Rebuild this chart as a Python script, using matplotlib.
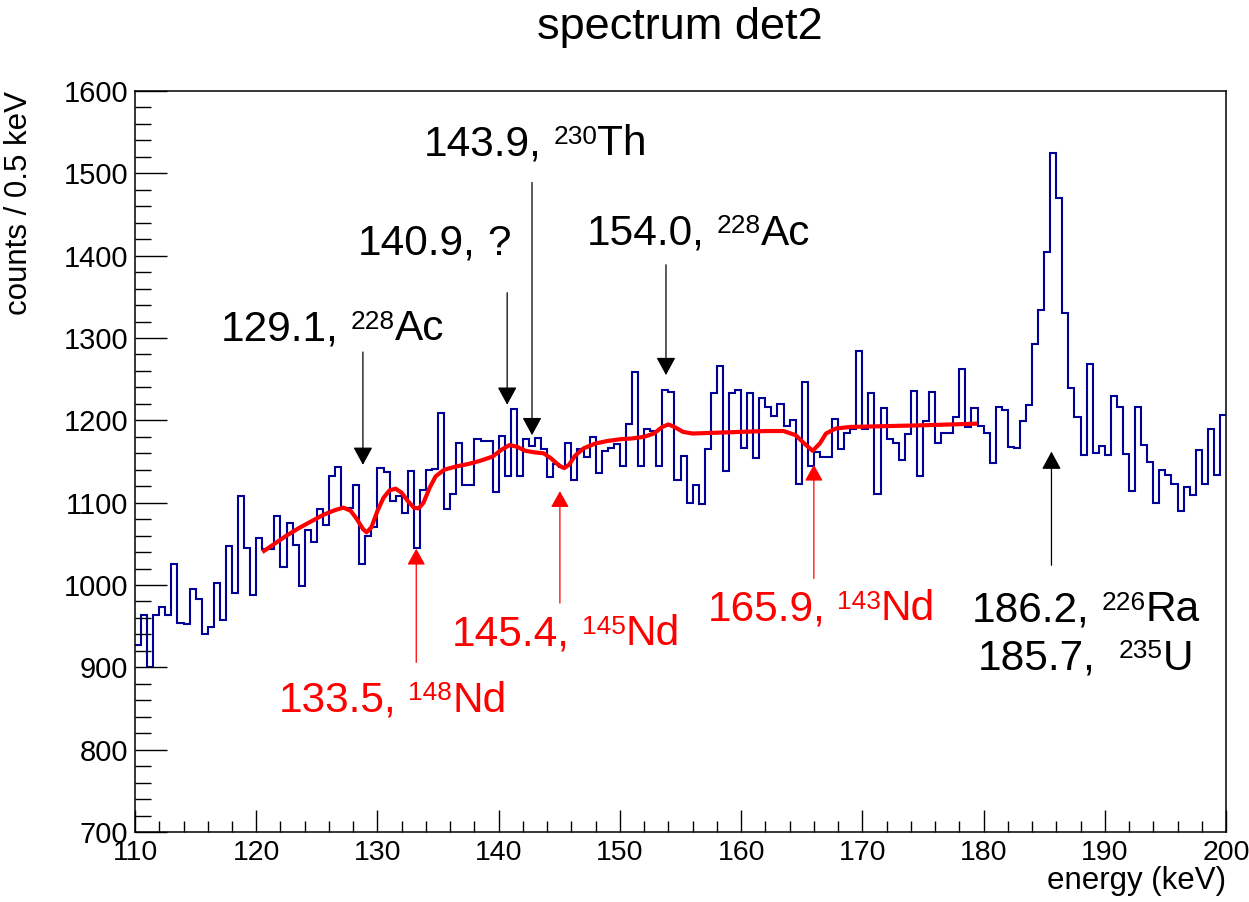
import numpy as np
import matplotlib
matplotlib.use("Agg")
import matplotlib.pyplot as plt
from matplotlib.transforms import offset_copy

plt.rcParams["font.family"] = ["Liberation Sans", "DejaVu Sans"]

# ---------------------------------------------------------------------------
# data: counts per 0.5 keV bin, 110-200 keV
# ---------------------------------------------------------------------------
e_lo, e_hi, bin_w = 110.0, 200.0, 0.5

counts = [
    927, 963, 901, 964, 973, 964, 1026, 954, 953, 995,
    983, 940, 949, 1003, 957, 1047, 990, 1108, 1045, 988,
    1057, 1044, 1044, 1084, 1022, 1075, 1049, 999, 1067, 1052,
    1092, 1073, 1133, 1143, 1094, 1094, 1121, 1026, 1060, 1070,
    1142, 1137, 1102, 1108, 1087, 1138, 1045, 1115, 1140, 1141,
    1209, 1092, 1111, 1172, 1121, 1121, 1177, 1175, 1175, 1113,
    1181, 1132, 1214, 1133, 1177, 1169, 1179, 1165, 1131, 1147,
    1143, 1173, 1127, 1165, 1155, 1180, 1136, 1163, 1167, 1171,
    1145, 1196, 1259, 1145, 1189, 1187, 1144, 1237, 1235, 1127,
    1157, 1100, 1121, 1098, 1165, 1233, 1266, 1139, 1233, 1237,
    1167, 1233, 1154, 1227, 1216, 1205, 1220, 1193, 1201, 1123,
    1246, 1145, 1161, 1156, 1155, 1202, 1165, 1185, 1189, 1284,
    1189, 1233, 1111, 1215, 1177, 1173, 1152, 1184, 1236, 1133,
    1199, 1235, 1173, 1185, 1185, 1204, 1262, 1192, 1215, 1193,
    1185, 1148, 1216, 1213, 1168, 1166, 1199, 1219, 1293, 1334,
    1404, 1525, 1470, 1330, 1239, 1204, 1158, 1268, 1160, 1169,
    1158, 1230, 1216, 1159, 1114, 1216, 1170, 1149, 1100, 1140,
    1134, 1123, 1090, 1119, 1109, 1164, 1123, 1189, 1134, 1206,
]

# fit curve (energy, counts)
fit_e = [120.5, 121.5, 122.5, 123.5, 124.5, 125.5, 126.5, 127.2, 127.8, 128.3,
         128.8, 129.1, 129.5, 130.0, 130.5, 131.0, 131.5, 132.0, 132.5, 133.0,
         133.4, 133.8, 134.3, 134.8, 135.5, 136.5, 137.5, 138.5, 139.5, 140.2,
         140.9, 141.5, 142.2, 143.0, 143.7, 144.3, 145.0, 145.4, 145.8, 146.3,
         147.0, 148.0, 149.0, 150.0, 151.0, 152.0, 152.8, 153.5, 154.0, 154.5,
         155.2, 156.0, 158.0, 160.0, 162.0, 163.5, 164.5, 165.2, 165.9, 166.5,
         167.0, 167.8, 169.0, 172.0, 175.0, 179.5]
fit_c = [1040, 1050, 1060, 1069, 1077, 1085, 1091, 1094, 1090, 1080,
         1068, 1064, 1070, 1090, 1106, 1115, 1117, 1112, 1102, 1094,
         1093, 1100, 1118, 1132, 1140, 1144, 1147, 1151, 1156, 1164,
         1170, 1168, 1163, 1161, 1160, 1154, 1145, 1142, 1146, 1157,
         1166, 1172, 1175, 1177, 1178, 1180, 1184, 1192, 1195, 1192,
         1186, 1184, 1185, 1186, 1187, 1187, 1182, 1172, 1163, 1172,
         1184, 1190, 1192, 1193, 1194, 1196]

# line labels: (value text, spaces, mass number, element), placed at (x, y) baseline centre
black_labels = [("129.1,", 1, "228", "Ac"), ("140.9,", 1, "", "?"),
                ("143.9,", 1, "230", "Th"), ("154.0,", 1, "228", "Ac"),
                ("186.2,", 1, "226", "Ra"), ("185.7,", 2, "235", "U")]
black_text_xy = [(126.3, 1297), (134.65, 1401), (143.0, 1522),
                 (156.5, 1413), (188.45, 956), (188.4, 897)]
# arrows: x, start y, tip y
black_arrows = [(128.8, 1283, 1146), (140.7, 1355, 1219), (142.75, 1489, 1182),
                (153.8, 1389, 1255), (185.6, 1024, 1162)]

red_labels = [("133.5,", 1, "148", "Nd"), ("145.4,", 1, "145", "Nd"),
              ("165.9,", 1, "143", "Nd")]
red_text_xy = [(131.26, 846), (145.55, 927), (166.6, 957)]
red_arrows = [(133.2, 906, 1044), (145.05, 978, 1114), (166.0, 1008, 1146)]

# ---------------------------------------------------------------------------
fig = plt.figure(figsize=(12.49, 9.02), dpi=100)
ax = fig.add_axes([0.1081, 0.0776, 0.8735, 0.8215])
renderer = fig.canvas.get_renderer()

edges = np.linspace(e_lo, e_hi, len(counts) + 1)
ax.stairs(counts, edges, color="#000099", linewidth=1.5, baseline=None)
ax.plot(fit_e, fit_c, color="#ff0000", linewidth=3.0, solid_capstyle="butt")

ax.set_xlim(e_lo, e_hi)
ax.set_ylim(700, 1600)

ax.set_xticks(np.arange(110, 201, 10))
ax.set_xticks(np.arange(110, 201, 2), minor=True)
ax.set_yticks(np.arange(700, 1601, 100))
ax.set_yticks(np.arange(700, 1601, 20), minor=True)

ax.tick_params(axis="x", which="major", direction="in", length=16, width=1.0,
               labelsize=20.5, pad=6, top=False)
ax.tick_params(axis="x", which="minor", direction="in", length=8, width=1.0, top=False)
ax.tick_params(axis="y", which="major", direction="in", length=23, width=1.0,
               labelsize=21, pad=5, right=False)
ax.tick_params(axis="y", which="minor", direction="in", length=11.5, width=1.0, right=False)
for sp in ax.spines.values():
    sp.set_linewidth(1.1)

ax.set_xlabel("energy (keV)", fontsize=22.5, loc="right", labelpad=0)
ax.set_ylabel("counts / 0.5 keV", fontsize=22.5, loc="top", labelpad=21)

fig.text(680 / 1249, 1 - 39 / 902, "spectrum det2", fontsize=32.5,
         ha="center", va="baseline")


def isotope_label(x, y, value, nsp, mass, elem, color, size=30.5):
    """value text, a gap, small raised mass number, element; centred at x."""
    px2pt = 72.0 / fig.dpi
    sup_size = size * 0.62
    sup_dy = size * 0.716 - sup_size * 0.716
    pieces = [(value, size, 0.0, nsp * 0.278 * size),
              (mass, sup_size, sup_dy, 0.0),
              (elem, size, 0.0, 0.0)]
    arts = []
    cur = 0.0
    for s, fs, dy, gap in pieces:
        if not s:
            cur += gap
            continue
        t = ax.text(x, y, s, fontsize=fs, color=color, ha="left", va="baseline",
                    transform=offset_copy(ax.transData, fig, x=cur, y=dy, units="points"))
        w = t.get_window_extent(renderer).width * px2pt
        arts.append((t, cur, dy))
        cur += w + gap
    for t, off, dy in arts:
        t.set_transform(offset_copy(ax.transData, fig, x=off - cur / 2, y=dy,
                                    units="points"))


for (val, nsp, mass, elem), (tx, ty) in zip(black_labels, black_text_xy):
    isotope_label(tx, ty, val, nsp, mass, elem, "black")
for x, y0, y1 in black_arrows:
    ax.annotate("", xy=(x, y1), xytext=(x, y0),
                arrowprops=dict(arrowstyle="-|>,head_length=0.55,head_width=0.3",
                                color="black", lw=0.9, mutation_scale=20,
                                shrinkA=0, shrinkB=0))

for (val, nsp, mass, elem), (tx, ty) in zip(red_labels, red_text_xy):
    isotope_label(tx, ty, val, nsp, mass, elem, "#ff0000")
for x, y0, y1 in red_arrows:
    ax.annotate("", xy=(x, y1), xytext=(x, y0),
                arrowprops=dict(arrowstyle="-|>,head_length=0.5,head_width=0.28",
                                color="#ff0000", lw=0.9, mutation_scale=20,
                                shrinkA=0, shrinkB=0))

fig.savefig("out.png", dpi=100)
